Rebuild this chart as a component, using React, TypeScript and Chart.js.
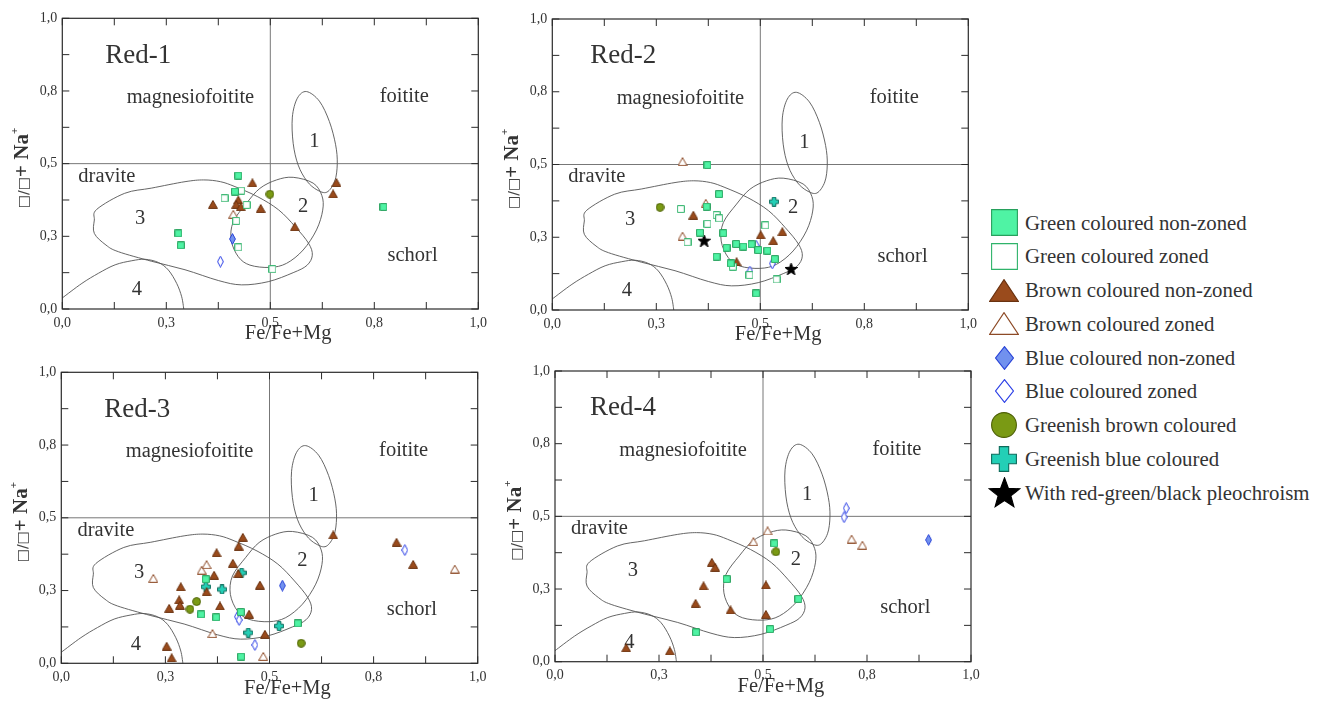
import React, { useEffect, useRef } from 'react';
import { Chart, registerables } from 'chart.js';

Chart.register(...registerables);

const FONT = "'Liberation Serif', 'Times New Roman', serif";
const TEXT = '#333333';

// ---------- axis ticks ----------
const AXIS_TICKS = [0, 0.125, 0.25, 0.375, 0.5, 0.625, 0.75, 0.875, 1];
const AXIS_TICK_LABELS = ['0,0', '', '0,3', '', '0,5', '', '0,8', '', '1,0'];
const X_TITLE = 'Fe/Fe+Mg';
const PANEL_TITLES = ['Red-1', 'Red-2', 'Red-3', 'Red-4'];

// ---------- classification fields (outline vertices, data units) ----------
const FIELD_1 = [[0.587, 0.748], [0.618, 0.715], [0.642, 0.645], [0.657, 0.565], [0.661, 0.5], [0.655, 0.44], [0.636, 0.402], [0.612, 0.41], [0.588, 0.44], [0.567, 0.495], [0.555, 0.57], [0.553, 0.66], [0.565, 0.725]];
const FIELD_2 = [[0.555, 0.453], [0.603, 0.433], [0.624, 0.39], [0.626, 0.34], [0.611, 0.272], [0.579, 0.203], [0.539, 0.157], [0.499, 0.143], [0.451, 0.151], [0.423, 0.18], [0.406, 0.237], [0.411, 0.3], [0.443, 0.364], [0.475, 0.415], [0.515, 0.444]];
const FIELD_3 = [[0.083, 0.343], [0.15, 0.398], [0.215, 0.416], [0.295, 0.438], [0.34, 0.444], [0.38, 0.438], [0.415, 0.421], [0.47, 0.386], [0.52, 0.341], [0.56, 0.283], [0.592, 0.226], [0.601, 0.185], [0.588, 0.15], [0.555, 0.125], [0.495, 0.094], [0.431, 0.083], [0.375, 0.098], [0.295, 0.135], [0.215, 0.164], [0.135, 0.197], [0.105, 0.22], [0.077, 0.26], [0.077, 0.306]];
const FIELD_4 = [[0.0, 0.038], [0.047, 0.088], [0.087, 0.123], [0.127, 0.152], [0.167, 0.166], [0.199, 0.171], [0.231, 0.16], [0.255, 0.134], [0.275, 0.088], [0.287, 0.042], [0.292, 0.0]];

const FIELD_LABELS = ['1', '2', '3', '4'];
const REGION_NAMES = ['magnesiofoitite', 'foitite', 'dravite', 'schorl'];

// ---------- Red-1 ----------
const RED1_GREEN_NONZONED = [[0.423, 0.459], [0.415, 0.404], [0.279, 0.26], [0.285, 0.219], [0.772, 0.351]];
const RED1_GREEN_ZONED = [[0.43, 0.407], [0.39, 0.381], [0.443, 0.358], [0.418, 0.303], [0.423, 0.212], [0.505, 0.137]];
const RED1_BROWN_NONZONED = [[0.362, 0.36], [0.457, 0.434], [0.423, 0.375], [0.418, 0.36], [0.429, 0.352], [0.477, 0.346], [0.559, 0.283], [0.659, 0.435], [0.651, 0.396]];
const RED1_BROWN_ZONED = [[0.411, 0.326]];
const RED1_BLUE_NONZONED = [[0.409, 0.241]];
const RED1_BLUE_ZONED = [[0.38, 0.163]];
const RED1_GREENISH_BROWN = [[0.499, 0.395]];
const RED1_GREENISH_BLUE: number[][] = [];
const RED1_PLEOCHROIC: number[][] = [];

// ---------- Red-2 ----------
const RED2_GREEN_NONZONED = [[0.373, 0.498], [0.401, 0.398], [0.371, 0.355], [0.355, 0.266], [0.411, 0.264], [0.419, 0.214], [0.442, 0.227], [0.459, 0.218], [0.479, 0.226], [0.495, 0.206], [0.517, 0.204], [0.535, 0.175], [0.395, 0.183], [0.429, 0.16], [0.49, 0.057]];
const RED2_GREEN_ZONED = [[0.309, 0.347], [0.373, 0.296], [0.395, 0.326], [0.401, 0.315], [0.325, 0.233], [0.512, 0.291], [0.434, 0.149], [0.474, 0.12], [0.539, 0.105]];
const RED2_BROWN_NONZONED = [[0.339, 0.326], [0.501, 0.258], [0.531, 0.238], [0.553, 0.269], [0.443, 0.166]];
const RED2_BROWN_ZONED = [[0.313, 0.51], [0.369, 0.367], [0.313, 0.254]];
const RED2_BLUE_NONZONED: number[][] = [];
const RED2_BLUE_ZONED = [[0.49, 0.221], [0.475, 0.132], [0.529, 0.16]];
const RED2_GREENISH_BROWN = [[0.259, 0.353]];
const RED2_GREENISH_BLUE = [[0.533, 0.372]];
const RED2_PLEOCHROIC = [[0.365, 0.238], [0.574, 0.141]];

// ---------- Red-3 ----------
const RED3_GREEN_NONZONED = [[0.347, 0.289], [0.336, 0.168], [0.372, 0.158], [0.431, 0.176], [0.432, 0.023], [0.568, 0.137]];
const RED3_GREEN_ZONED: number[][] = [];
const RED3_BROWN_NONZONED = [[0.436, 0.433], [0.426, 0.403], [0.373, 0.38], [0.412, 0.344], [0.367, 0.303], [0.287, 0.263], [0.349, 0.246], [0.283, 0.218], [0.285, 0.2], [0.259, 0.189], [0.381, 0.197], [0.451, 0.169], [0.477, 0.269], [0.489, 0.1], [0.253, 0.059], [0.265, 0.019], [0.425, 0.309], [0.653, 0.441], [0.805, 0.416], [0.845, 0.34]];
const RED3_BROWN_ZONED = [[0.221, 0.292], [0.337, 0.32], [0.349, 0.339], [0.363, 0.102], [0.485, 0.024], [0.945, 0.324]];
const RED3_BLUE_NONZONED = [[0.531, 0.267]];
const RED3_BLUE_ZONED = [[0.423, 0.16], [0.427, 0.149], [0.465, 0.063], [0.825, 0.389]];
const RED3_GREENISH_BROWN = [[0.325, 0.212], [0.309, 0.186], [0.576, 0.069]];
const RED3_GREENISH_BLUE = [[0.433, 0.311], [0.347, 0.263], [0.386, 0.254], [0.449, 0.105], [0.523, 0.128]];
const RED3_PLEOCHROIC: number[][] = [];

// ---------- Red-4 ----------
const RED4_GREEN_NONZONED = [[0.527, 0.407], [0.413, 0.284], [0.585, 0.216], [0.339, 0.101], [0.517, 0.112]];
const RED4_GREEN_ZONED: number[][] = [];
const RED4_BROWN_NONZONED = [[0.377, 0.342], [0.385, 0.325], [0.357, 0.261], [0.338, 0.201], [0.422, 0.178], [0.507, 0.264], [0.507, 0.163], [0.171, 0.048], [0.276, 0.037]];
const RED4_BROWN_ZONED = [[0.477, 0.413], [0.511, 0.45], [0.713, 0.422], [0.739, 0.401]];
const RED4_BLUE_NONZONED = [[0.898, 0.419]];
const RED4_BLUE_ZONED = [[0.7, 0.528], [0.695, 0.497]];
const RED4_GREENISH_BROWN = [[0.531, 0.378]];
const RED4_GREENISH_BLUE: number[][] = [];
const RED4_PLEOCHROIC: number[][] = [];

const PANEL_DATA = [
  [RED1_GREEN_NONZONED, RED1_GREEN_ZONED, RED1_BROWN_NONZONED, RED1_BROWN_ZONED, RED1_BLUE_NONZONED, RED1_BLUE_ZONED, RED1_GREENISH_BROWN, RED1_GREENISH_BLUE, RED1_PLEOCHROIC],
  [RED2_GREEN_NONZONED, RED2_GREEN_ZONED, RED2_BROWN_NONZONED, RED2_BROWN_ZONED, RED2_BLUE_NONZONED, RED2_BLUE_ZONED, RED2_GREENISH_BROWN, RED2_GREENISH_BLUE, RED2_PLEOCHROIC],
  [RED3_GREEN_NONZONED, RED3_GREEN_ZONED, RED3_BROWN_NONZONED, RED3_BROWN_ZONED, RED3_BLUE_NONZONED, RED3_BLUE_ZONED, RED3_GREENISH_BROWN, RED3_GREENISH_BLUE, RED3_PLEOCHROIC],
  [RED4_GREEN_NONZONED, RED4_GREEN_ZONED, RED4_BROWN_NONZONED, RED4_BROWN_ZONED, RED4_BLUE_NONZONED, RED4_BLUE_ZONED, RED4_GREENISH_BROWN, RED4_GREENISH_BLUE, RED4_PLEOCHROIC],
];

// ---------- series styles ----------
type Kind = 'square' | 'triangle' | 'diamond' | 'circle' | 'plus' | 'star';
const SERIES: { label: string; kind: Kind; fill: string; stroke: string }[] = [
  { label: 'Green coloured non-zoned', kind: 'square', fill: '#4ff3a4', stroke: '#27a05c' },
  { label: 'Green coloured zoned', kind: 'square', fill: '#ffffff', stroke: '#2fb36a' },
  { label: 'Brown coloured non-zoned', kind: 'triangle', fill: '#9a4b1c', stroke: '#6a3210' },
  { label: 'Brown coloured zoned', kind: 'triangle', fill: '#ffffff', stroke: '#8d4a26' },
  { label: 'Blue coloured non-zoned', kind: 'diamond', fill: '#7191ee', stroke: '#2a44d8' },
  { label: 'Blue coloured zoned', kind: 'diamond', fill: '#ffffff', stroke: '#2a3ee6' },
  { label: 'Greenish brown coloured', kind: 'circle', fill: '#7a9a14', stroke: '#4c5f05' },
  { label: 'Greenish blue coloured', kind: 'plus', fill: '#23cfb6', stroke: '#0d6b5b' },
  { label: 'With red-green/black pleochroism', kind: 'star', fill: '#000000', stroke: '#000000' },
];

const PLOT_SIZE: Record<Kind, [number, number]> = {
  square: [8, 8], triangle: [10, 9], diamond: [7, 12], circle: [9, 9], plus: [10, 10], star: [13, 12],
};
const LEGEND_SIZE: Record<Kind, [number, number]> = {
  square: [27, 27], triangle: [30, 23], diamond: [19, 24], circle: [26, 26], plus: [26, 26], star: [33, 31],
};

// ---------- layout ----------
const PANEL_LAYOUT = [
  { left: 0, top: 0, w: 490, h: 352, pad: { left: 62.3, top: 18.3, right: 11.7, bottom: 43 }, titleX: 0.103 },
  { left: 490, top: 0, w: 490, h: 352, pad: { left: 62.3, top: 19, right: 11.7, bottom: 42 }, titleX: 0.091 },
  { left: 0, top: 352, w: 490, h: 350, pad: { left: 61.3, top: 20.3, right: 12.3, bottom: 38.7 }, titleX: 0.103 },
  { left: 490, top: 352, w: 490, h: 350, pad: { left: 65, top: 19, right: 9, bottom: 40.3 }, titleX: 0.084 },
];

function shapePath(kind: Kind, w: number, h: number): string {
  const a = 0.6;
  const cx = w / 2;
  const cy = h / 2;
  switch (kind) {
    case 'square':
      return `M${a} ${a}H${w - a}V${h - a}H${a}Z`;
    case 'triangle':
      return `M${cx} ${a}L${w - a} ${h - a}L${a} ${h - a}Z`;
    case 'diamond':
      return `M${cx} ${a}L${w - a} ${cy}L${cx} ${h - a}L${a} ${cy}Z`;
    case 'circle': {
      const r = w / 2 - a;
      return `M${cx - r} ${cy}A${r} ${r} 0 1 0 ${cx + r} ${cy}A${r} ${r} 0 1 0 ${cx - r} ${cy}Z`;
    }
    case 'plus': {
      const t = w * 0.18;
      const e = a;
      const pts = [[cx - t, e], [cx + t, e], [cx + t, cy - t], [w - e, cy - t], [w - e, cy + t], [cx + t, cy + t], [cx + t, h - e], [cx - t, h - e], [cx - t, cy + t], [e, cy + t], [e, cy - t], [cx - t, cy - t]];
      return 'M' + pts.map((p) => `${p[0]} ${p[1]}`).join('L') + 'Z';
    }
    case 'star': {
      const R = Math.min(w, h) / 2 + 0.5;
      const r = R * 0.42;
      const ccy = cy + R * 0.08;
      const pts: string[] = [];
      for (let i = 0; i < 10; i++) {
        const ang = -Math.PI / 2 + (i * Math.PI) / 5;
        const rr = i % 2 === 0 ? R : r;
        pts.push(`${cx + rr * Math.cos(ang)} ${ccy + rr * Math.sin(ang)}`);
      }
      return 'M' + pts.join('L') + 'Z';
    }
  }
  return '';
}

function makeMarker(s: { kind: Kind; fill: string; stroke: string }): HTMLCanvasElement {
  const [w, h] = PLOT_SIZE[s.kind];
  const c = document.createElement('canvas');
  c.width = w;
  c.height = h;
  const g = c.getContext('2d')!;
  const p = new Path2D(shapePath(s.kind, w, h));
  g.fillStyle = s.fill;
  g.fill(p);
  g.strokeStyle = s.stroke;
  g.lineWidth = 1;
  g.stroke(p);
  return c;
}

function smoothPath(ctx: CanvasRenderingContext2D, pts: number[][], closed: boolean) {
  const n = pts.length;
  const get = (i: number) => (closed ? pts[(i + n) % n] : pts[Math.max(0, Math.min(n - 1, i))]);
  ctx.beginPath();
  ctx.moveTo(pts[0][0], pts[0][1]);
  const segs = closed ? n : n - 1;
  for (let i = 0; i < segs; i++) {
    const p0 = get(i - 1), p1 = get(i), p2 = get(i + 1), p3 = get(i + 2);
    const c1x = p1[0] + (p2[0] - p0[0]) / 6;
    const c1y = p1[1] + (p2[1] - p0[1]) / 6;
    const c2x = p2[0] - (p3[0] - p1[0]) / 6;
    const c2y = p2[1] - (p3[1] - p1[1]) / 6;
    ctx.bezierCurveTo(c1x, c1y, c2x, c2y, p2[0], p2[1]);
  }
  if (closed) ctx.closePath();
  ctx.stroke();
}

const diagramPlugin = {
  id: 'diagram',
  beforeDatasetsDraw(chart: any, _args: any, opts: any) {
    const { ctx, chartArea: a } = chart;
    const xs = chart.scales.x;
    const ys = chart.scales.y;
    const px = (v: number) => xs.getPixelForValue(v);
    const py = (v: number) => ys.getPixelForValue(v);
    ctx.save();

    // quadrant dividers
    ctx.strokeStyle = '#777777';
    ctx.lineWidth = 1;
    ctx.beginPath();
    ctx.moveTo(px(0.5), a.top);
    ctx.lineTo(px(0.5), a.bottom);
    ctx.moveTo(a.left, py(0.5));
    ctx.lineTo(a.right, py(0.5));
    ctx.stroke();

    // fields
    ctx.strokeStyle = '#555555';
    ctx.lineWidth = 0.9;
    const toPx = (pts: number[][]) => pts.map((p) => [px(p[0]), py(p[1])]);
    smoothPath(ctx, toPx(FIELD_1), true);
    smoothPath(ctx, toPx(FIELD_2), true);
    smoothPath(ctx, toPx(FIELD_3), true);
    smoothPath(ctx, toPx(FIELD_4), false);

    // frame
    ctx.strokeStyle = '#2b2b2b';
    ctx.lineWidth = 1.2;
    ctx.strokeRect(a.left, a.top, a.right - a.left, a.bottom - a.top);

    // inward ticks on all sides
    const tl = 7;
    ctx.lineWidth = 1;
    ctx.beginPath();
    AXIS_TICKS.forEach((v) => {
      const X = px(v);
      const Y = py(v);
      ctx.moveTo(X, a.bottom);
      ctx.lineTo(X, a.bottom - tl);
      ctx.moveTo(X, a.top);
      ctx.lineTo(X, a.top + tl);
      ctx.moveTo(a.left, Y);
      ctx.lineTo(a.left + tl, Y);
      ctx.moveTo(a.right, Y);
      ctx.lineTo(a.right - tl, Y);
    });
    ctx.stroke();

    // tick labels
    ctx.fillStyle = TEXT;
    ctx.font = `14px ${FONT}`;
    ctx.textBaseline = 'middle';
    AXIS_TICKS.forEach((v, i) => {
      const lab = AXIS_TICK_LABELS[i];
      if (!lab) return;
      ctx.textAlign = 'center';
      ctx.fillText(lab, px(v), a.bottom + 14);
      ctx.textAlign = 'right';
      ctx.fillText(lab, a.left - 5, py(v));
    });

    // x title
    ctx.textAlign = 'center';
    ctx.font = `20.5px ${FONT}`;
    ctx.fillText(X_TITLE, px(0.543), a.bottom + 25);

    // y title (rotated, mixed styles)
    ctx.save();
    ctx.translate(a.left - 41, py(0.485));
    ctx.rotate(-Math.PI / 2);
    ctx.textAlign = 'left';
    ctx.textBaseline = 'alphabetic';
    const parts = [
      { t: '\u25A1/\u25A1', font: "14px 'DejaVu Sans', sans-serif", dy: 0, color: '#444444' },
      { t: '+ Na', font: `bold 21px ${FONT}`, dy: 0, color: TEXT },
      { t: '+', font: `bold 11px ${FONT}`, dy: -10, color: TEXT },
    ];
    let total = 0;
    parts.forEach((p) => {
      ctx.font = p.font;
      total += ctx.measureText(p.t).width;
    });
    let cx = -total / 2;
    parts.forEach((p) => {
      ctx.font = p.font;
      ctx.fillStyle = p.color;
      ctx.fillText(p.t, cx, 7 + p.dy);
      cx += ctx.measureText(p.t).width;
    });
    ctx.restore();

    // panel title
    ctx.fillStyle = TEXT;
    ctx.textAlign = 'left';
    ctx.textBaseline = 'middle';
    ctx.font = `27px ${FONT}`;
    ctx.fillText(opts.title, px(opts.titleX), py(0.872));

    // region names and field numbers
    ctx.textAlign = 'center';
    ctx.font = `20.5px ${FONT}`;
    const regionPos = [[0.308, 0.727], [0.822, 0.73], [0.107, 0.457], [0.842, 0.185]];
    REGION_NAMES.forEach((t, i) => ctx.fillText(t, px(regionPos[i][0]), py(regionPos[i][1])));
    const fieldPos = [[0.606, 0.576], [0.579, 0.352], [0.187, 0.312], [0.179, 0.065]];
    FIELD_LABELS.forEach((t, i) => ctx.fillText(t, px(fieldPos[i][0]), py(fieldPos[i][1])));

    ctx.restore();
  },
};

export default function App() {
  const canvasRefs = useRef<(HTMLCanvasElement | null)[]>([]);

  useEffect(() => {
    const markers = SERIES.map((s) => makeMarker(s));
    const charts = PANEL_LAYOUT.map((lay, pi) => {
      const canvas = canvasRefs.current[pi]!;
      const datasets = SERIES.map((s, si) => ({
        label: s.label,
        data: PANEL_DATA[pi][si].map((p) => ({ x: p[0], y: p[1] })),
        pointStyle: markers[si],
        pointRadius: 5,
        pointHoverRadius: 5,
        clip: false as any,
      }));
      return new Chart(canvas, {
        type: 'scatter',
        data: { datasets },
        options: {
          animation: false,
          responsive: false,
          events: [],
          layout: { padding: lay.pad },
          scales: {
            x: { type: 'linear', min: 0, max: 1, display: false },
            y: { type: 'linear', min: 0, max: 1, display: false },
          },
          plugins: {
            legend: { display: false },
            tooltip: { enabled: false },
            diagram: { title: PANEL_TITLES[pi], titleX: lay.titleX },
          } as any,
        },
        plugins: [diagramPlugin],
      });
    });
    return () => charts.forEach((c) => c.destroy());
  }, []);

  return (
    <div style={{ position: 'fixed', left: 0, top: 0, width: 1320, height: 702, background: '#ffffff', overflow: 'hidden' }}>
      {PANEL_LAYOUT.map((l, i) => (
        <canvas
          key={i}
          ref={(el) => {
            canvasRefs.current[i] = el;
          }}
          width={l.w}
          height={l.h}
          style={{ position: 'absolute', left: l.left, top: l.top, width: l.w, height: l.h }}
        />
      ))}
      {SERIES.map((s, i) => {
        const cy = 222.7 + i * 33.75;
        const [w, h] = LEGEND_SIZE[s.kind];
        return (
          <React.Fragment key={s.label}>
            <svg width={w} height={h} style={{ position: 'absolute', left: 1004 - w / 2, top: cy - h / 2 }}>
              <path d={shapePath(s.kind, w, h)} fill={s.fill} stroke={s.stroke} strokeWidth={1.1} />
            </svg>
            <div
              style={{
                position: 'absolute',
                left: 1025,
                top: cy - 13,
                height: 26,
                lineHeight: '26px',
                fontFamily: FONT,
                fontSize: '20.8px',
                color: TEXT,
                whiteSpace: 'nowrap',
              }}
            >
              {s.label}
            </div>
          </React.Fragment>
        );
      })}
    </div>
  );
}
